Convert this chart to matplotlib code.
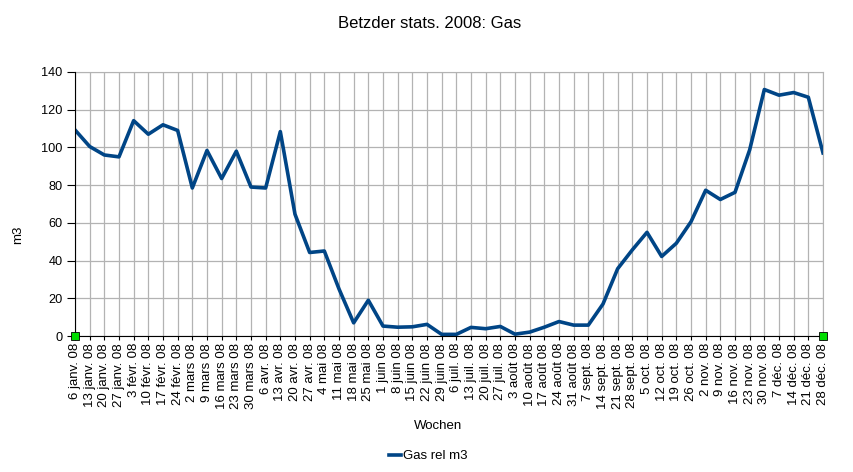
import matplotlib
matplotlib.use("Agg")
import matplotlib.pyplot as plt

plt.rcParams['font.family'] = ['Liberation Sans', 'DejaVu Sans']

wochen = ["6 janv. 08", "13 janv. 08", "20 janv. 08", "27 janv. 08",
          "3 févr. 08", "10 févr. 08", "17 févr. 08", "24 févr. 08",
          "2 mars 08", "9 mars 08", "16 mars 08", "23 mars 08", "30 mars 08",
          "6 avr. 08", "13 avr. 08", "20 avr. 08", "27 avr. 08",
          "4 mai 08", "11 mai 08", "18 mai 08", "25 mai 08",
          "1 juin 08", "8 juin 08", "15 juin 08", "22 juin 08", "29 juin 08",
          "6 juil. 08", "13 juil. 08", "20 juil. 08", "27 juil. 08",
          "3 août 08", "10 août 08", "17 août 08", "24 août 08", "31 août 08",
          "7 sept. 08", "14 sept. 08", "21 sept. 08", "28 sept. 08",
          "5 oct. 08", "12 oct. 08", "19 oct. 08", "26 oct. 08",
          "2 nov. 08", "9 nov. 08", "16 nov. 08", "23 nov. 08", "30 nov. 08",
          "7 déc. 08", "14 déc. 08", "21 déc. 08", "28 déc. 08"]

gas = [109.3, 100.5, 96, 95, 114.2, 107, 112, 109,
       78.5, 98.4, 83.5, 98, 79,
       78.5, 108.4, 64.6, 44.3,
       45.1, 25, 7, 19,
       5.3, 4.7, 4.9, 6.2, 0.9,
       0.9, 4.6, 3.9, 5.1,
       1.0, 2.1, 4.7, 7.7, 5.8,
       5.8, 17, 35.7, 45.7,
       55, 42.2, 49.2, 60.6,
       77.3, 72.4, 76.2, 98.7, 130.7,
       127.7, 129.1, 126.6, 97.1]

fig = plt.figure(figsize=(8.54, 4.72), dpi=100)
ax = fig.add_axes([0.0878, 0.288, 0.8759, 0.5595])

x = list(range(len(gas)))
ax.plot(x, gas, '-', color='#004586', linewidth=2.6, label="Gas rel m3", zorder=3)

ax.set_xlim(0, len(gas) - 1)
ax.set_ylim(0, 140)
ax.set_yticks(range(0, 141, 20))
ax.set_xticks(x)
ax.set_xticklabels(wochen, rotation=90, fontsize=9.5)
ax.tick_params(axis='y', labelsize=9.2, length=6, direction='out', pad=3)
ax.tick_params(axis='x', length=3, direction='out', pad=2)
ax.grid(True, color='#b3b3b3', linewidth=0.9)
ax.set_axisbelow(True)
for s in ['top', 'right']:
    ax.spines[s].set_color('#b3b3b3')
for s in ['left', 'bottom']:
    ax.spines[s].set_color('black')
    ax.spines[s].set_zorder(4)

# green handles at the axis ends
ax.plot([0, len(gas) - 1], [0, 0], 's', color='#00dd00', markeredgecolor='black',
        markersize=6, markeredgewidth=0.6, clip_on=False, zorder=5)

fig.text(429.5 / 854, 1 - 23 / 472, "Betzder stats. 2008: Gas", fontsize=12,
         ha='center', va='center')
fig.text(438 / 854, 1 - 426 / 472, "Wochen", fontsize=9.5, ha='center', va='center')
fig.text(18 / 854, 1 - 235 / 472, "m3", fontsize=9.5, rotation=90,
         ha='center', va='center')

fig.legend(loc='center', bbox_to_anchor=(428 / 854, 1 - 456 / 472), frameon=False,
           fontsize=9.5, handlelength=0.9, handletextpad=0.15)

plt.savefig("out.png", dpi=100)
